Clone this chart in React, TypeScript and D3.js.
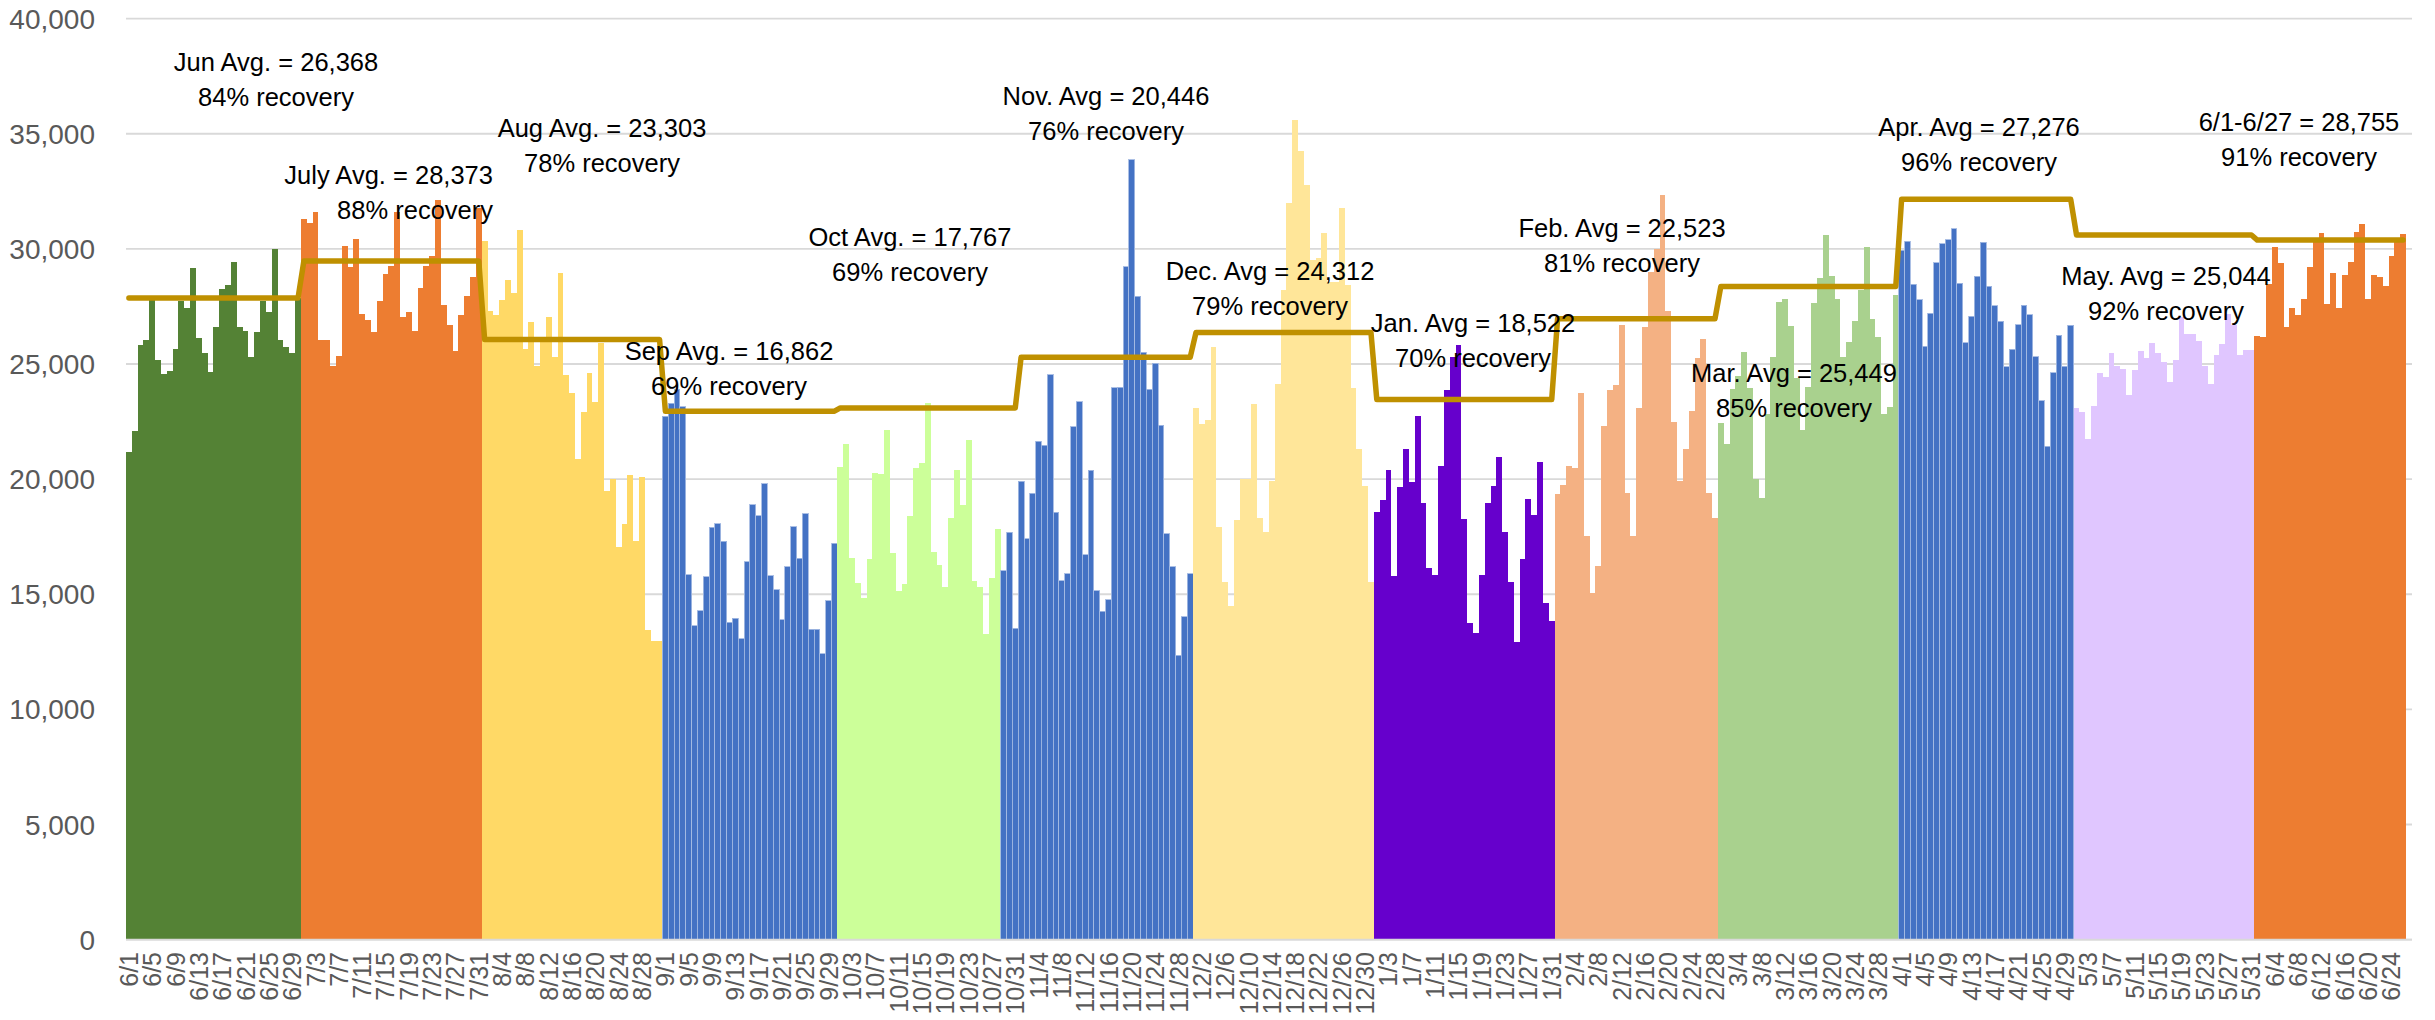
import * as d3 from "d3";
import React, { useRef, useEffect } from "react";

// daily values, one array per month (6/1/2020 - 6/26/2021)
const jun20 = [21170, 22080, 25830, 26060, 27810, 25180, 24560, 24700, 25630, 27750, 27410, 29160, 26110, 25460, 24650, 26590, 28260, 28430, 29420, 26590, 26450, 25320, 26370, 27750, 27240, 29980, 26030, 25720, 25460, 27860];
const jul20 = [31280, 31110, 31590, 26030, 26030, 24930, 25350, 30120, 29220, 30430, 27160, 26900, 26370, 27720, 28910, 29250, 31620, 27040, 27240, 26420, 28320, 29250, 29700, 32130, 27580, 26710, 25550, 27130, 27950, 28770, 31760];
const aug20 = [30350, 27300, 27130, 27780, 28650, 28090, 30800, 25640, 26820, 24900, 26140, 27040, 25290, 28940, 24530, 23740, 20890, 22900, 24620, 23350, 25920, 19480, 19990, 17050, 18070, 20180, 17330, 20100, 13440, 12960, 12990];
const sep20 = [22730, 23290, 23910, 23150, 15840, 13640, 14280, 15750, 17900, 18070, 17310, 13780, 13950, 13070, 16400, 18890, 18410, 19790, 15810, 15190, 13890, 16200, 17930, 16570, 18490, 13470, 13470, 12420, 14710, 17220];
const oct20 = [20520, 21510, 16570, 15470, 14820, 16520, 20270, 20210, 22130, 16800, 15160, 15440, 18410, 20470, 20690, 23290, 16830, 16260, 15300, 18320, 20410, 18860, 21710, 15580, 15330, 13270, 15700, 17840, 16010, 17700, 13520];
const nov20 = [19900, 17420, 19390, 21650, 21460, 24530, 18550, 15580, 15890, 22270, 23350, 16710, 20380, 15160, 14260, 14760, 23970, 24000, 29220, 33880, 27950, 25520, 23910, 25040, 22330, 17620, 16200, 12340, 14030, 15890];
const dec20 = [23090, 22390, 22560, 25750, 17930, 15530, 14480, 18210, 20020, 20020, 23260, 18320, 17700, 19900, 24140, 28200, 31990, 35600, 34270, 32780, 29500, 29590, 30710, 28540, 28540, 31760, 28430, 23940, 21310, 19680, 15530];
const jan21 = [18580, 19080, 20410, 15780, 19650, 21290, 19870, 22750, 18970, 16150, 15840, 20580, 23850, 25320, 25830, 18270, 13750, 13300, 15840, 18970, 19680, 20950, 17700, 15530, 12930, 16520, 19140, 18460, 20750, 14620, 13830];
const feb21 = [19340, 19760, 20550, 20470, 23740, 17530, 15050, 16230, 22300, 23850, 24080, 26680, 19390, 17530, 23090, 26600, 29000, 30000, 32320, 27300, 22470, 19900, 21310, 22950, 25240, 26090, 19390, 18320];
const mar21 = [22420, 21510, 23910, 24480, 25520, 23940, 20020, 19170, 22840, 25290, 27670, 27840, 26650, 24390, 22130, 24020, 27640, 28740, 30600, 28820, 27810, 25290, 25970, 26850, 28230, 30070, 26960, 26170, 22810, 23150, 28000];
const apr21 = [29950, 30320, 28460, 27780, 25770, 27210, 29390, 30230, 30400, 30880, 28510, 25920, 27070, 28800, 30290, 28370, 27520, 26850, 24870, 25630, 26710, 27550, 27130, 25320, 23400, 21430, 24620, 26250, 24900, 26680];
const may21 = [23090, 22900, 21740, 23180, 24620, 24420, 25460, 24900, 24790, 23660, 24730, 25550, 25240, 25920, 25460, 25100, 24220, 25180, 27020, 26310, 26310, 26000, 24900, 24140, 25380, 25860, 27160, 26710, 25380, 25610, 25610];
const jun21 = [26200, 26170, 28460, 30070, 29390, 26590, 27440, 27130, 27810, 29220, 30490, 30710, 27610, 28940, 27440, 28850, 29420, 30740, 31080, 27810, 28850, 28770, 28370, 29700, 30350, 30630];

const months = [[6, 20], [7, 20], [8, 20], [9, 20], [10, 20], [11, 20], [12, 20], [1, 21], [2, 21], [3, 21], [4, 21], [5, 21], [6, 21]];
const monthValues = [jun20, jul20, aug20, sep20, oct20, nov20, dec20, jan21, feb21, mar21, apr21, may21, jun21];

// gold step line, one level per month
const monthLine = [27860, 29470, 26060, 22950, 23090, 25290, 26370, 23460, 26960, 28370, 32150, 30600, 30380];

// colour blocks (first day of each block)
const blockStarts = ["6/1/20", "7/1/20", "8/1/20", "9/1/20", "10/1/20", "10/29/20", "12/1/20", "1/1/21", "2/1/21", "3/1/21", "4/1/21", "5/1/21", "6/1/21"];
const blockColors = ["#548235", "#ED7D31", "#FFD966", "#4472C4", "#CCFF99", "#4472C4", "#FFE699", "#6600CC", "#F4B183", "#A9D18E", "#4472C4", "#E0C6FF", "#ED7D31"];

const annotationText = [
  ["Jun Avg. = 26,368", "84% recovery"],
  ["July Avg. = 28,373", "88% recovery"],
  ["Aug Avg. = 23,303", "78% recovery"],
  ["Sep Avg. = 16,862", "69% recovery"],
  ["Oct Avg. = 17,767", "69% recovery"],
  ["Nov. Avg = 20,446", "76% recovery"],
  ["Dec. Avg = 24,312", "79% recovery"],
  ["Jan. Avg = 18,522", "70% recovery"],
  ["Feb. Avg = 22,523", "81% recovery"],
  ["Mar. Avg = 25,449", "85% recovery"],
  ["Apr. Avg = 27,276", "96% recovery"],
  ["May. Avg = 25,044", "92% recovery"],
  ["6/1-6/27 = 28,755", "91% recovery"],
];
// layout of the text boxes: [x, y of first line, anchor]
const annotationPos: [number, number, string][] = [
  [276, 62, "middle"], [493, 175, "end"], [602, 128, "middle"], [729, 351, "middle"],
  [910, 237, "middle"], [1106, 96, "middle"], [1270, 271, "middle"], [1473, 323, "middle"],
  [1622, 228, "middle"], [1794, 373, "middle"], [1979, 127, "middle"], [2166, 276, "middle"],
  [2299, 122, "middle"],
];

const FONT = "'Liberation Sans', Arial, sans-serif";

export default function App() {
  const svgRef = useRef<SVGSVGElement>(null);

  useEffect(() => {
    const width = 2435;
    const height = 1020;
    const left = 126, right = 2406, top = 18.6, bottom = 939.6;

    const days: { key: string; label: string; value: number; month: number }[] = [];
    monthValues.forEach((vals, mi) => {
      const [m, yy] = months[mi];
      vals.forEach((v, d) => days.push({ key: `${m}/${d + 1}/${yy}`, label: `${m}/${d + 1}`, value: v, month: mi }));
    });
    const keys = days.map((d) => d.key);
    const startIdx = blockStarts.map((k) => keys.indexOf(k));
    const colorOf = (i: number) => {
      let c = blockColors[0];
      startIdx.forEach((s, b) => { if (i >= s) c = blockColors[b]; });
      return c;
    };

    const x = d3.scaleBand().domain(keys).range([left, right]).padding(0);
    const y = d3.scaleLinear().domain([0, 40000]).range([bottom, top]);
    const bw = x.bandwidth();

    const svg = d3.select(svgRef.current)
      .attr("width", width).attr("height", height)
      .style("position", "absolute").style("left", "0px").style("top", "0px")
      .style("background", "#fff");
    svg.selectAll("*").remove();

    const ticks = d3.range(0, 40001, 5000);
    svg.append("g").selectAll("line").data(ticks).enter().append("line")
      .attr("x1", left).attr("x2", 2412)
      .attr("y1", (d) => y(d)).attr("y2", (d) => y(d))
      .attr("stroke", "#D9D9D9").attr("stroke-width", 1.8);

    svg.append("g").selectAll("text").data(ticks).enter().append("text")
      .attr("x", 95).attr("y", (d) => y(d)).attr("dy", "0.36em")
      .attr("text-anchor", "end").attr("font-family", FONT).attr("font-size", 28)
      .attr("fill", "#595959").text((d) => d3.format(",")(d));

    svg.append("g").selectAll("rect").data(days).enter().append("rect")
      .attr("x", (d) => x(d.key)!)
      .attr("width", bw)
      .attr("y", (d) => y(d.value))
      .attr("height", (d) => bottom - y(d.value))
      .attr("fill", (d, i) => colorOf(i))
      .attr("stroke", (d, i) => (colorOf(i) === "#4472C4" ? "#A3B9E2" : "none"))
      .attr("stroke-width", 0.9)
      .attr("shape-rendering", "crispEdges");

    svg.append("line").attr("x1", left).attr("x2", 2412).attr("y1", bottom).attr("y2", bottom)
      .attr("stroke", "#D9D9D9").attr("stroke-width", 1.8);

    // category labels, every 4th day
    svg.append("g").selectAll("text").data(days.filter((d, i) => i % 4 === 0)).enter().append("text")
      .attr("transform", (d) => `translate(${x(d.key)! + bw / 2},952) rotate(-90)`)
      .attr("dy", "0.36em").attr("text-anchor", "end")
      .attr("font-family", FONT).attr("font-size", 25).attr("fill", "#595959")
      .text((d) => d.label);

    const line = d3.line<{ key: string; month: number }>()
      .x((d) => x(d.key)! + bw / 2)
      .y((d) => y(monthLine[d.month]));
    svg.append("path").datum(days).attr("d", line)
      .attr("fill", "none").attr("stroke", "#BF9000").attr("stroke-width", 5.5)
      .attr("stroke-linejoin", "round").attr("stroke-linecap", "round");

    const ann = svg.append("g").attr("font-family", FONT).attr("font-size", 25.5).attr("fill", "#000");
    annotationText.forEach((lines, i) => {
      const [ax, ay, anchor] = annotationPos[i];
      lines.forEach((t, j) => {
        ann.append("text").attr("x", ax).attr("y", ay + j * 35).attr("dy", "0.36em")
          .attr("text-anchor", anchor).text(t);
      });
    });
  }, []);

  return <svg ref={svgRef}></svg>;
}
